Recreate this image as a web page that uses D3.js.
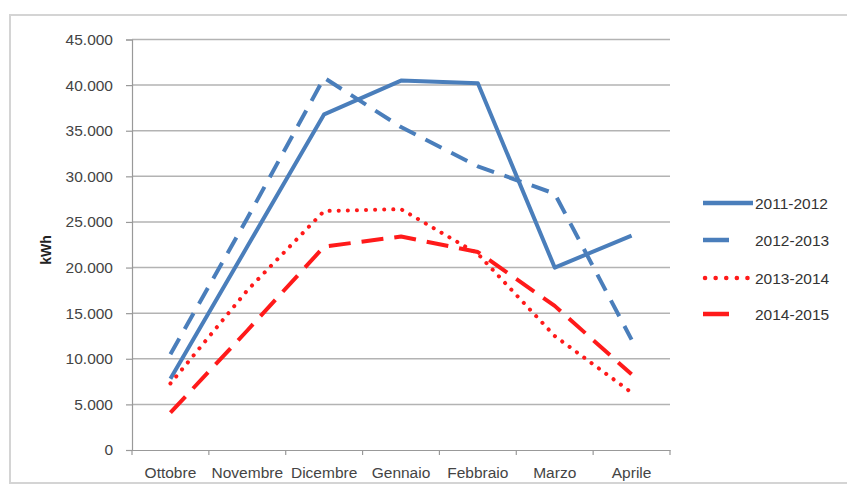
<!DOCTYPE html>
<html><head><meta charset="utf-8">
<script src="https://cdn.jsdelivr.net/npm/d3@7"></script>
<style>body{margin:0;background:#fff;}svg{display:block;}</style>
</head><body>
<svg id="chart" width="847" height="487"></svg>
<script>
const months = ["Ottobre","Novembre","Dicembre","Gennaio","Febbraio","Marzo","Aprile"];
const seriesNames = ["2011-2012","2012-2013","2013-2014","2014-2015"];
const s2011 = [7800, 22300, 36800, 40500, 40200, 20000, 23500];
const s2012 = [10500, 25400, 40800, 35400, 31100, 28100, 12100];
const s2013 = [7300, 17500, 26200, 26400, 21500, 12500, 6300];
const s2014 = [4100, 13100, 22300, 23400, 21700, 15800, 8300];
const yTicks = [0,5000,10000,15000,20000,25000,30000,35000,40000,45000];

(function(){
const svg = d3.select("#chart");
const pl = 132, pr = 670, pt = 39.5, pb = 450;
const font = "'Liberation Sans', Arial, sans-serif";
const fs = 15.5;

svg.append("rect").attr("x",10).attr("y",15).attr("width",845).attr("height",468)
  .attr("fill","#fff").attr("stroke","#d4d4d4").attr("stroke-width",2);

const x = d3.scaleBand().domain(months).range([pl,pr]);
const y = d3.scaleLinear().domain([0,45000]).range([pb,pt]);

svg.append("g").selectAll("line").data(yTicks.slice(1)).join("line")
  .attr("x1",pl).attr("x2",pr).attr("y1",d=>y(d)).attr("y2",d=>y(d))
  .attr("stroke","#b3b3b3").attr("stroke-width",1.5);

const fmt = d => d===0 ? "0" : d3.format(",")(d).replace(/,/g,".");
const yAxis = svg.append("g").attr("transform",`translate(${pl},0)`)
  .call(d3.axisLeft(y).tickValues(yTicks).tickFormat(fmt).tickSize(6).tickPadding(13));
yAxis.selectAll("path,line").attr("stroke","#999").attr("stroke-width",1.2);
yAxis.selectAll("text").attr("font-family",font).attr("font-size",fs).attr("fill","#444");

const xAxis = svg.append("g").attr("transform",`translate(0,${pb})`)
  .call(d3.axisBottom(x).tickSize(0).tickPadding(17));
xAxis.select("path").attr("stroke","#999").attr("stroke-width",1.2);
xAxis.selectAll("text").attr("font-family",font).attr("font-size",fs).attr("fill","#444");
const bounds = months.map(m=>x(m)).concat([pr]);
svg.append("g").selectAll("line").data(bounds).join("line")
  .attr("x1",d=>d).attr("x2",d=>d).attr("y1",pb).attr("y2",pb+5)
  .attr("stroke","#999").attr("stroke-width",1.2);

svg.append("text").attr("transform",`translate(51,250) rotate(-90)`)
  .attr("text-anchor","middle").attr("font-family",font).attr("font-size",14)
  .attr("font-weight","bold").attr("fill","#222").text("kWh");

const styles = [
  {data:s2011, color:"#4a7ebb", dash:null, cap:"butt"},
  {data:s2012, color:"#4a7ebb", dash:"18,11", cap:"butt"},
  {data:s2013, color:"#ff1a1a", dash:"0.1,9", cap:"round"},
  {data:s2014, color:"#ff1a1a", dash:"22,11", cap:"butt"}
];
const line = d3.line().x((d,i)=>x(months[i])+x.bandwidth()/2).y(d=>y(d));
styles.forEach(s=>{
  svg.append("path").datum(s.data).attr("d",line).attr("fill","none")
    .attr("stroke",s.color).attr("stroke-width",4).attr("stroke-linejoin","round")
    .attr("stroke-linecap",s.cap).attr("stroke-dasharray",s.dash);
});

const lg = svg.append("g");
const rowsY = [203, 240, 278, 314];
const samples = [[703,753],[703,729],[705,749],[703,729]];
styles.forEach((s,i)=>{
  lg.append("line").attr("x1",samples[i][0]).attr("x2",samples[i][1])
    .attr("y1",rowsY[i]).attr("y2",rowsY[i]).attr("stroke",s.color).attr("stroke-width",4.5)
    .attr("stroke-linecap",s.cap).attr("stroke-dasharray", i===2 ? "0.1,10.5" : null);
  lg.append("text").attr("x",755).attr("y",rowsY[i]+5.5).attr("font-family",font)
    .attr("font-size",fs).attr("fill","#333").text(seriesNames[i]);
});
})();
</script>
</body></html>
